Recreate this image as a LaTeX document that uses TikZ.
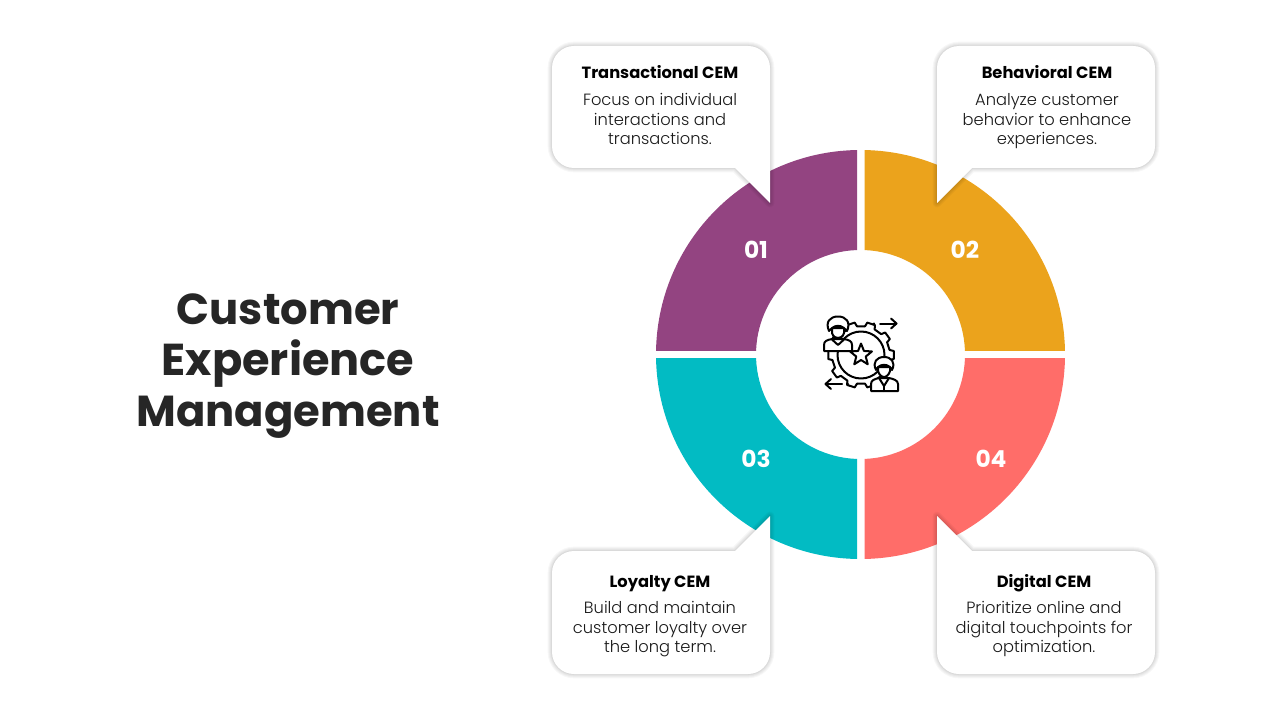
\documentclass[tikz,border=0pt]{standalone}
\usepackage{fontspec}
\setmainfont{Poppins}
\newfontfamily\lightf{Poppins Light}
\definecolor{cPurple}{HTML}{934481}
\definecolor{cAmber}{HTML}{EBA31C}
\definecolor{cTeal}{HTML}{02BBC3}
\definecolor{cCoral}{HTML}{FF6D69}
\definecolor{cInk}{HTML}{262626}
\tikzset{
  titletext/.style={font=\fontsize{32.5}{38.25}\selectfont\bfseries,text=cInk,align=center},
  headtext/.style={font=\fontsize{12.2}{14}\selectfont\bfseries,text=black,text height=9pt,text depth=3pt},
  bodytext/.style={font=\lightf\fontsize{12.2}{14.7}\selectfont,text=black!90,align=center,execute at begin node=\strut,execute at end node=\strut},
  numtext/.style={font=\fontsize{17.5}{20}\selectfont\bfseries,text=white},
  iconline/.style={draw=black,line width=1.5pt,line join=round,line cap=round},
  iconbody/.style={iconline,fill=white},
}
\newcommand{\shadowed}[1]{%
  \foreach \w in {6.5,5,3.5,2,1}{
    \draw[black,opacity=0.03,line width=\w pt,line join=round] #1;
  }
  \fill[white] #1;
}
\begin{document}
\begin{tikzpicture}[x=0.75pt,y=-0.75pt]
\useasboundingbox (0,0) rectangle (1280,720);
\fill[white] (0,0) rectangle (1280,720);
\begin{scope}\clip (640,140) rectangle (857,350);
\fill[cPurple,even odd rule] (860.5,354.5) circle[radius=204.5] (860.5,354.5) circle[radius=104.5];\end{scope}
\begin{scope}\clip (864.5,140) rectangle (1080,350);
\fill[cAmber,even odd rule] (860.5,354.5) circle[radius=204.5] (860.5,354.5) circle[radius=104.5];\end{scope}
\begin{scope}\clip (640,358) rectangle (857,570);
\fill[cTeal,even odd rule] (860.5,354.5) circle[radius=204.5] (860.5,354.5) circle[radius=104.5];\end{scope}
\begin{scope}\clip (864.5,358) rectangle (1080,570);
\fill[cCoral,even odd rule] (860.5,354.5) circle[radius=204.5] (860.5,354.5) circle[radius=104.5];\end{scope}
\shadowed{(574,46) -- (748,46) arc[start angle=-90,end angle=0,radius=22] -- (770,203) -- (735,168) -- (574,168) arc[start angle=90,end angle=180,radius=22] -- (552,68) arc[start angle=180,end angle=270,radius=22] -- cycle}
\shadowed{(959,46) -- (1133,46) arc[start angle=-90,end angle=0,radius=22] -- (1155,146) arc[start angle=0,end angle=90,radius=22] -- (972,168) -- (937,203) -- (937,68) arc[start angle=180,end angle=270,radius=22] -- cycle}
\shadowed{(574,674) -- (748,674) arc[start angle=90,end angle=0,radius=22] -- (770,516) -- (735,551) -- (574,551) arc[start angle=-90,end angle=-180,radius=22] -- (552,652) arc[start angle=180,end angle=90,radius=22] -- cycle}
\shadowed{(959,674) -- (1133,674) arc[start angle=90,end angle=0,radius=22] -- (1155,573) arc[start angle=0,end angle=-90,radius=22] -- (972,551) -- (937,516) -- (937,652) arc[start angle=180,end angle=90,radius=22] -- cycle}
\node[titletext] (title) at (288,366) {Customer\\{\fontsize{33.5}{38.25}\selectfont Experience}\\Management};
\node[numtext] (n1) at (756,250) {01};
\node[numtext] (n2) at (965,250) {02};
\node[numtext] (n3) at (756,459) {03};
\node[numtext] (n4) at (991,459) {04};
\node[headtext] (h1) at (660,75) {Transactional CEM};
\node[headtext] (h2) at (1047,75) {Behavioral CEM};
\node[headtext] (h3) at (660,583) {Loyalty CEM};
\node[headtext] (h4) at (1044,583) {Digital CEM};
\node[bodytext] (b1) at (660,122) {Focus on individual\\interactions and\\transactions.};
\node[bodytext] (b2) at (1047,122) {Analyze customer\\behavior to enhance\\experiences.};
\node[bodytext] (b3) at (660,630) {Build and maintain\\customer loyalty over\\the long term.};
\node[bodytext] (b4) at (1044,630) {Prioritize online and\\digital touchpoints for\\optimization.};
% icon: gear
\begin{scope}[shift={(861,355)}]
\foreach \a in {0,36,...,324}{
  \draw[iconline] (\a-10:29) -- (\a-7:33) -- (\a+7:33) -- (\a+10:29) -- (\a+26:29);
}
\draw[iconline] (0,0) circle[radius=23.5];
\draw[iconline] (270:11.5) -- (306:5) -- (342:11.5) -- (18:5) -- (54:11.5) -- (90:5) -- (126:11.5) -- (162:5) -- (198:11.5) -- (234:5) -- cycle;
\end{scope}
% icon: arrows
\draw[iconline] (880,323.5) -- (896,323.5);
\draw[iconline] (891,318.5) -- (896.5,323.5) -- (891,328.5);
\fill (874,323.5) circle[radius=1.2];
\draw[iconline] (826,384) -- (842,384);
\draw[iconline] (831,379) -- (825.5,384) -- (831,389);
\fill (848,384) circle[radius=1.2];
% icon: person one
\draw[iconbody] (824,351) -- (824,345) .. controls (824,341) and (827,340) .. (832,339) -- (844,339) .. controls (849,340) and (852,341) .. (852,345) -- (852,351) -- cycle;
\draw[iconline] (832,339.5) -- (838,345) -- (844,339.5);
\draw[iconbody] (832,328) -- (832,333) .. controls (833,337) and (836,338) .. (838,338) .. controls (840,338) and (843,337) .. (844,333) -- (844,328) -- cycle;
\draw[iconbody] (829,331) .. controls (825,322) and (830,316.5) .. (838,316.5) .. controls (846,316.5) and (851,322) .. (847,331) -- (844,328) .. controls (840,325) and (836,325) .. (832,328) -- cycle;
% icon: person two
\draw[iconbody] (871,391) -- (871,384) .. controls (871,380) and (875,379) .. (879,378) -- (889,378) .. controls (893,379) and (898,380) .. (898,384) -- (898,391) -- cycle;
\draw[iconline] (879,378) -- (884,386) -- (889,378);
\draw[iconline] (884,386) -- (884,391);
\draw[iconbody] (878,367) -- (878,371) .. controls (879,375) and (882,377) .. (884,377) .. controls (886,377) and (889,375) .. (890,371) -- (890,367) -- cycle;
\draw[iconbody] (876,370) .. controls (872,362) and (877,357) .. (884,357) .. controls (891,357) and (896,362) .. (892,370) -- (890,367) .. controls (886,364) and (882,364) .. (878,367) -- cycle;
\end{tikzpicture}
\end{document}
